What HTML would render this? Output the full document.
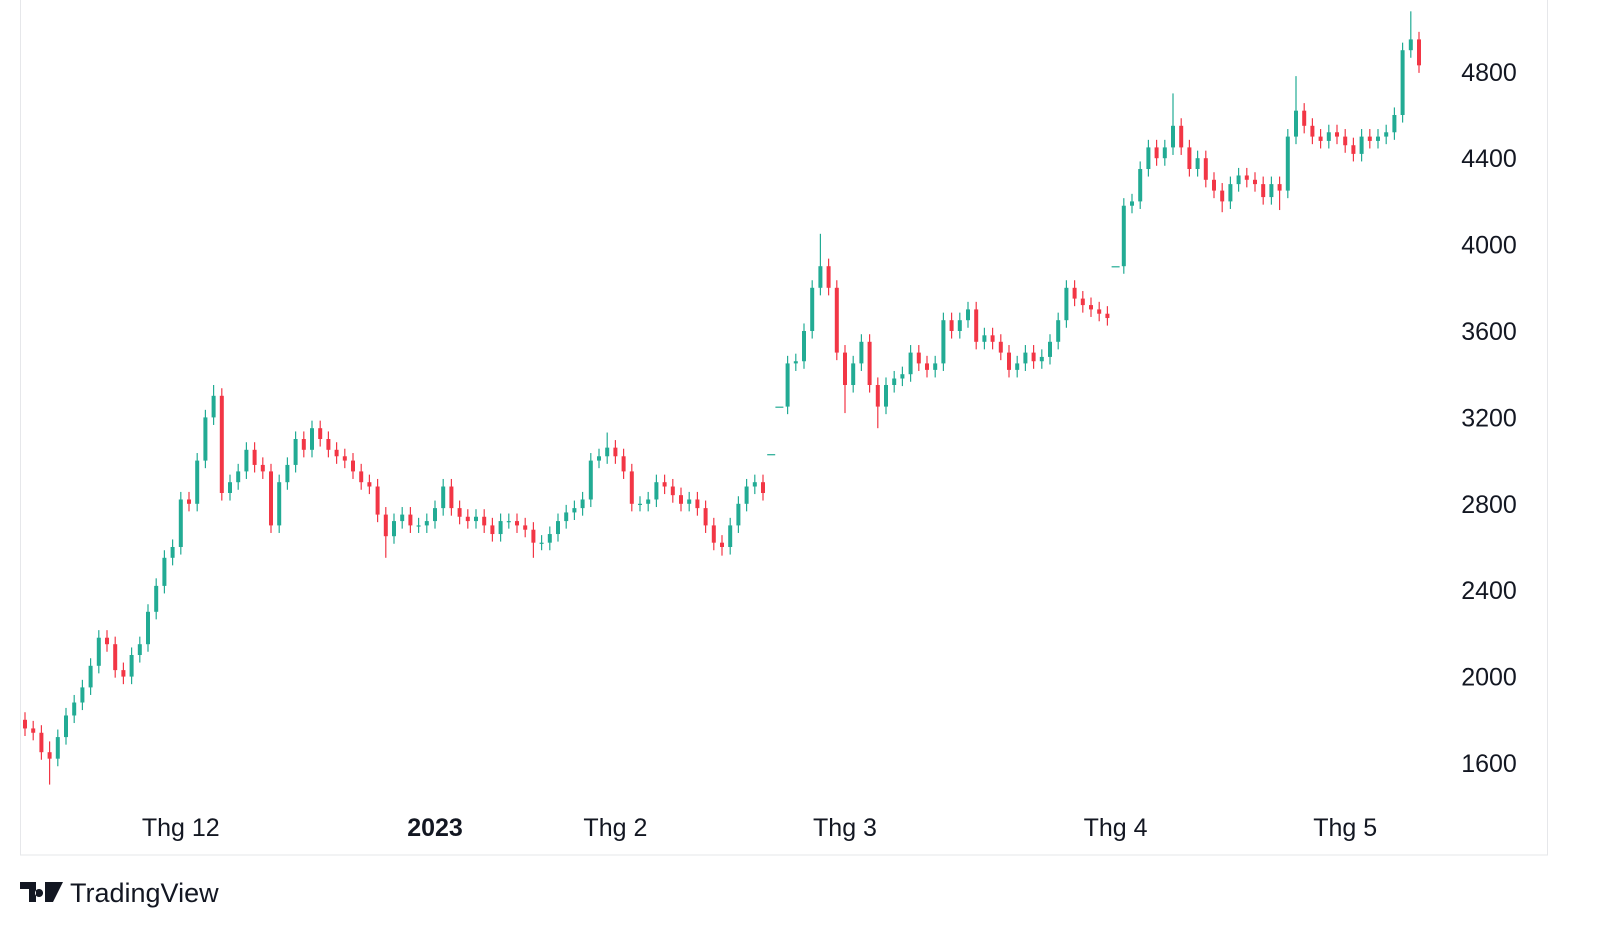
<!DOCTYPE html>
<html><head><meta charset="utf-8">
<style>
body{margin:0;background:#fff;width:1600px;height:950px;overflow:hidden;font-family:"Liberation Sans",sans-serif;}
svg{position:absolute;left:0;top:0}
</style></head>
<body>
<svg id="chart" width="1600" height="950">
<rect x="20.5" y="-1" width="1527" height="856" fill="none" stroke="#e6e7ea" stroke-width="1"/>
<g id="candles"></g>
<g id="yaxis"></g>
<g id="xaxis"></g>
<g>
<path d="M20 882h16v20h-7v-13h-9z M39 889a4 4 0 1 0 0.1 0z M45 882h18l-10 20h-8z" fill="#131722"/>
<text x="70" y="902" font-size="27" fill="#131722" font-family="Liberation Sans, sans-serif">TradingView</text>
</g>
</svg>
<script>
const closes=[1760,1740,1650,1620,1720,1820,1880,1950,2050,2180,2150,2030,2000,2100,2150,2300,2420,2550,2600,2820,2800,3000,3200,3300,2850,2900,2950,3050,2980,2950,2700,2900,2980,3100,3050,3150,3100,3050,3020,3000,2950,2900,2880,2750,2650,2720,2750,2700,2700,2720,2780,2880,2780,2740,2720,2740,2700,2660,2720,2720,2700,2680,2620,2620,2660,2720,2760,2780,2820,3000,3020,3060,3020,2950,2800,2800,2820,2900,2880,2840,2800,2820,2780,2700,2620,2600,2700,2800,2880,2900,2850,3030,3250,3450,3460,3600,3800,3900,3800,3500,3350,3450,3550,3350,3250,3350,3380,3400,3500,3450,3420,3450,3650,3600,3650,3700,3550,3580,3550,3500,3420,3450,3500,3460,3480,3550,3650,3800,3750,3720,3700,3680,3660,3900,4180,4200,4350,4450,4400,4450,4550,4450,4350,4400,4300,4250,4200,4280,4320,4300,4280,4220,4280,4250,4500,4620,4550,4500,4480,4520,4500,4460,4420,4500,4480,4500,4520,4600,4900,4950,4830];
const firstOpen=1800;
const flatDays=[91,92,133];
const spikeHighs={3:1700,23:3350,71:3130,97:4050,140:4700,155:4780,169:5080};
const spikeLows={3:1500,44:2550,62:2550,85:2560,100:3220,104:3150,146:4150,153:4160};
const yTicks=[1600,2000,2400,2800,3200,3600,4000,4400,4800];
const xLabels=["Thg 12","2023","Thg 2","Thg 3","Thg 4","Thg 5"];
const xLabelDays=[19,50,72,100,133,161];

const NS="http://www.w3.org/2000/svg";
function yScale(v){return 763-(v-1600)*0.216;}
function xScale(i){return 25+i*8.2;}
const cg=document.getElementById('candles');
for(let i=0;i<closes.length;i++){
  const c=closes[i];
  const flat=flatDays.includes(i);
  const o=flat?c:(i===0?firstOpen:closes[i-1]);
  const hi=flat?c:((spikeHighs[i]!==undefined)?spikeHighs[i]:Math.max(o,c)+35);
  const lo=flat?c:((spikeLows[i]!==undefined)?spikeLows[i]:Math.min(o,c)-35);
  const col=c>=o?"#22ab94":"#f23645";
  const x=xScale(i);
  const w=document.createElementNS(NS,'line');
  w.setAttribute('x1',x);w.setAttribute('x2',x);
  w.setAttribute('y1',yScale(hi));w.setAttribute('y2',yScale(lo));
  w.setAttribute('stroke',col);w.setAttribute('stroke-width','1.2');
  
  
  cg.appendChild(w);
  const b=document.createElementNS(NS,'rect');
  const top=yScale(Math.max(o,c)),bot=yScale(Math.min(o,c));
  b.setAttribute('x',x-(flat?4:2));b.setAttribute('y',top);
  b.setAttribute('width',flat?8:4);b.setAttribute('height',Math.max(1.2,bot-top));
  b.setAttribute('fill',col);
  
  
  cg.appendChild(b);
}
const yg=document.getElementById('yaxis');
yTicks.forEach(v=>{
  const t=document.createElementNS(NS,'text');
  t.setAttribute('x',1489);t.setAttribute('y',yScale(v)+9);
  t.setAttribute('text-anchor','middle');t.setAttribute('font-size','25');t.setAttribute('fill','#131722');
  t.textContent=v;
  
  
  yg.appendChild(t);
});
const xg=document.getElementById('xaxis');
xLabels.forEach((s,k)=>{
  const t=document.createElementNS(NS,'text');
  t.setAttribute('x',xScale(xLabelDays[k]));t.setAttribute('y',836);
  t.setAttribute('text-anchor','middle');t.setAttribute('font-size','25');t.setAttribute('fill','#131722');
  if(s==="2023"){t.setAttribute('font-weight','bold');}
  t.textContent=s;
  
  
  xg.appendChild(t);
});
</script>
</body></html>
